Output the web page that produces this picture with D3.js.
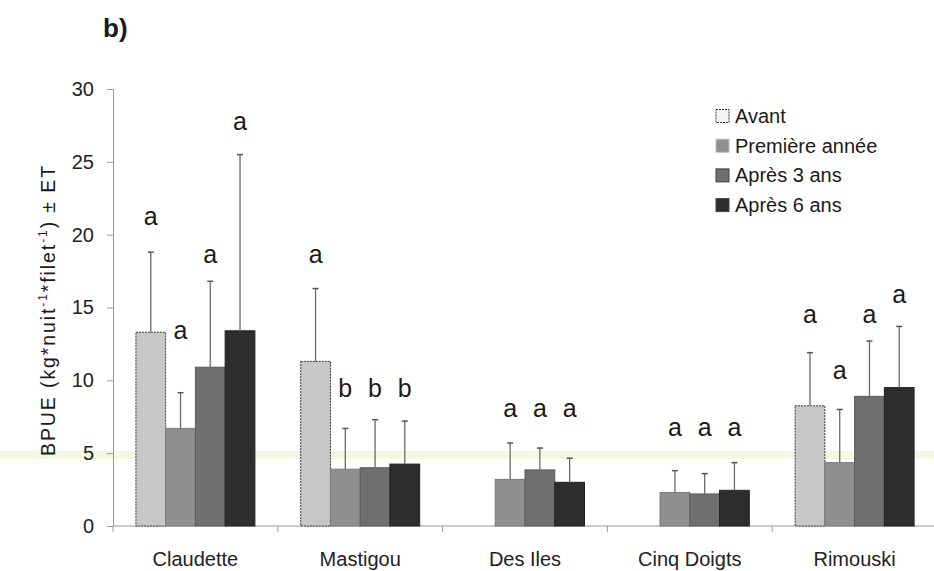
<!DOCTYPE html>
<html>
<head>
<meta charset="utf-8">
<script src="https://cdn.jsdelivr.net/npm/d3@7"></script>
<style>
  body { margin: 0; background: #fff; }
  svg { display: block; font-family: Arial, "Liberation Sans", Helvetica, sans-serif; }
</style>
</head>
<body>
<svg id="chart" width="934" height="571"></svg>
<script>
// ---- data ----
const categories = ["Claudette", "Mastigou", "Des Iles", "Cinq Doigts", "Rimouski"];
const series = ["Avant", "Première année", "Après 3 ans", "Après 6 ans"];

const avant    = [13.3, 11.3, 0, 0, 8.25];
const premiere = [6.7, 3.9, 3.2, 2.3, 4.35];
const apres3   = [10.9, 4.0, 3.85, 2.2, 8.9];
const apres6   = [13.4, 4.25, 3.0, 2.45, 9.5];

// upper end of mean + ET
const avantErr    = [18.8, 16.3, null, null, 11.9];
const premiereErr = [9.15, 6.7, 5.7, 3.8, 8.0];
const apres3Err   = [16.8, 7.3, 5.35, 3.6, 12.7];
const apres6Err   = [25.5, 7.2, 4.65, 4.35, 13.7];

// significance letters and the level (data units) where they sit
const avantLetters    = ["a", "a", "", "", "a"];
const premiereLetters = ["a", "b", "a", "a", "a"];
const apres3Letters   = ["a", "b", "a", "a", "a"];
const apres6Letters   = ["a", "b", "a", "a", "a"];
const avantLetterLevel    = [20.66, 18.05, null, null, 13.95];
const premiereLetterLevel = [12.83, 8.87, 7.5, 6.18, 10.09];
const apres3LetterLevel   = [18.03, 8.87, 7.5, 6.18, 13.95];
const apres6LetterLevel   = [27.18, 8.87, 7.5, 6.18, 15.3];

const yTicks = [0, 5, 10, 15, 20, 25, 30];

const values  = [avant, premiere, apres3, apres6];
const errs    = [avantErr, premiereErr, apres3Err, apres6Err];
const letters = [avantLetters, premiereLetters, apres3Letters, apres6Letters];
const levels  = [avantLetterLevel, premiereLetterLevel, apres3LetterLevel, apres6LetterLevel];

const fills   = ["#c7c7c7", "#8f8f8f", "#6f6f6f", "#2d2d2d"];
const strokes = ["#3a3a3a", "#7a7a7a", "#5a5a5a", "#222"];

// ---- layout ----
const svg = d3.select("#chart");
const pLeft = 113, pRight = 937, pTop = 89, pBottom = 526;

const x0 = d3.scaleBand().domain(categories).range([pLeft, pRight]).padding(0);
const groupW = x0.bandwidth() * 0.722;
const x1 = d3.scaleBand().domain(series).range([0, groupW]).padding(0);
const y = d3.scaleLinear().domain([0, 30]).range([pBottom, pTop]);

// faint scan band (under the marks)
svg.append("rect").attr("x", 0).attr("y", 451).attr("width", 934).attr("height", 8)
  .attr("fill", "#eef2d2").attr("opacity", 0.6);

// title
svg.append("text").attr("x", 103).attr("y", 37)
  .attr("font-size", 26).attr("font-weight", "bold").attr("fill", "#1a1a1a").text("b)");

// y axis
const yAxis = svg.append("g").attr("transform", `translate(${pLeft},0)`)
  .call(d3.axisLeft(y).tickValues(yTicks).tickSize(6).tickPadding(13).tickFormat(d3.format("d")));
yAxis.select(".domain").attr("stroke", "#9a9a9a");
yAxis.selectAll(".tick line").attr("stroke", "#9a9a9a");
yAxis.selectAll(".tick text").attr("font-size", 20).attr("fill", "#222")
  .attr("font-family", "Arial, 'Liberation Sans', sans-serif");

// y label
const yl = svg.append("text")
  .attr("transform", "translate(55,310) rotate(-90)")
  .attr("text-anchor", "middle").attr("font-size", 19.5).attr("fill", "#1a1a1a")
  .attr("letter-spacing", 1.9);
yl.append("tspan").text("BPUE (kg*nuit");
yl.append("tspan").attr("font-size", 12).attr("dy", -8).text("-1");
yl.append("tspan").attr("dy", 8).text("*filet");
yl.append("tspan").attr("font-size", 12).attr("dy", -8).text("-1");
yl.append("tspan").attr("dy", 8).text(") ± ET");

// x axis
svg.append("line").attr("x1", pLeft).attr("x2", pRight).attr("y1", pBottom).attr("y2", pBottom)
  .attr("stroke", "#9a9a9a");
const bounds = categories.map(c => x0(c)).concat([x0(categories[categories.length - 1]) + x0.bandwidth()]);
svg.selectAll(".xtick").data(bounds).enter().append("line")
  .attr("x1", d => d).attr("x2", d => d).attr("y1", pBottom).attr("y2", pBottom + 6)
  .attr("stroke", "#9a9a9a");
svg.selectAll(".xlab").data(categories).enter().append("text")
  .attr("x", d => x0(d) + x0.bandwidth() / 2).attr("y", 566)
  .attr("text-anchor", "middle").attr("font-size", 20).attr("fill", "#222").text(d => d);

// bars
const groupOffset = (x0.bandwidth() - groupW) / 2;
series.forEach((s, si) => {
  const g = svg.append("g");
  categories.forEach((c, ci) => {
    const v = values[si][ci];
    const bx = x0(c) + groupOffset + x1(s);
    const bw = x1.bandwidth();
    const cx = bx + bw / 2;
    if (v > 0) {
      g.append("rect").attr("x", bx).attr("y", y(v)).attr("width", bw).attr("height", y(0) - y(v))
        .attr("fill", fills[si]).attr("stroke", strokes[si]).attr("stroke-width", 1)
        .attr("stroke-dasharray", si === 0 ? "2,1" : null);
    }
    const e = errs[si][ci];
    if (e != null) {
      g.append("line").attr("x1", cx).attr("x2", cx).attr("y1", y(v)).attr("y2", y(e))
        .attr("stroke", "#6a6a6a").attr("stroke-width", 1.3);
      g.append("line").attr("x1", cx - 3).attr("x2", cx + 3).attr("y1", y(e)).attr("y2", y(e))
        .attr("stroke", "#555").attr("stroke-width", 1.5);
    }
    const L = letters[si][ci];
    if (L) {
      svg.append("text").attr("x", cx).attr("y", y(levels[si][ci]))
        .attr("text-anchor", "middle").attr("font-size", 25).attr("fill", "#1a1a1a").text(L);
    }
  });
});

// legend
const legend = svg.append("g");
series.forEach((s, i) => {
  const cy = 116 + i * 29.7;
  legend.append("rect").attr("x", 716).attr("y", cy - 6.5).attr("width", 13).attr("height", 13)
    .attr("fill", i === 0 ? "#f4f4f4" : fills[i])
    .attr("stroke", i === 0 ? "#333" : (i === 1 ? "#bbb" : "#444"))
    .attr("stroke-dasharray", i === 0 ? "2,1" : null);
  legend.append("text").attr("x", 735).attr("y", cy + 7).attr("font-size", 20)
    .attr("fill", "#1a1a1a").text(s);
});
</script>
</body>
</html>
